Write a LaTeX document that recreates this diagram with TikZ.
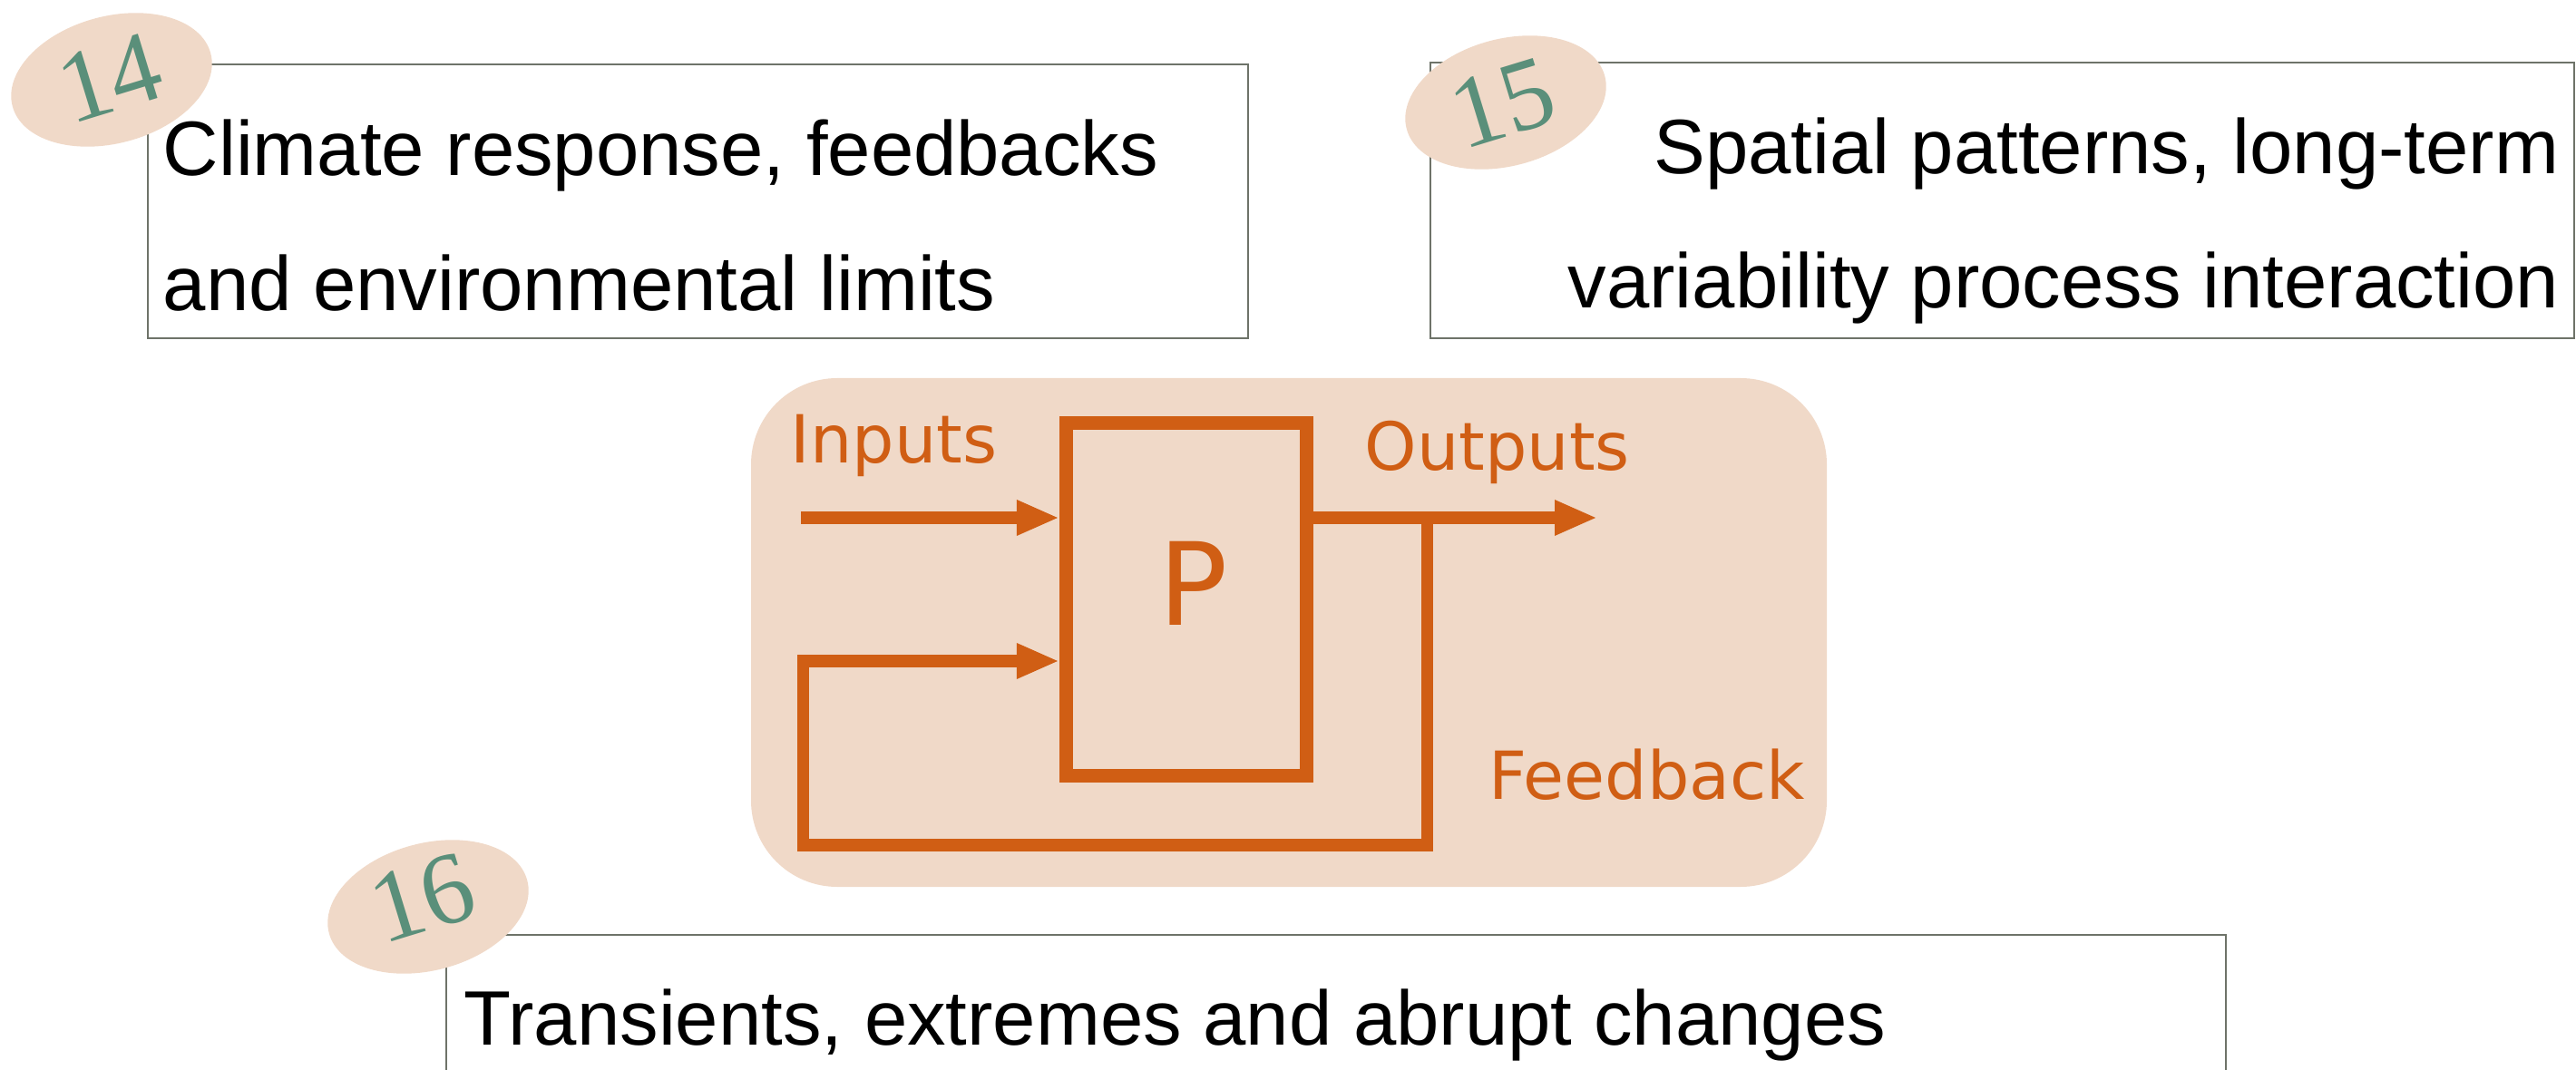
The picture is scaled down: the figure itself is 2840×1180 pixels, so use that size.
\documentclass[tikz,border=0pt]{standalone}
\usepackage{fontspec}
\setmainfont{Liberation Sans}
\newfontfamily\dejavu{DejaVu Sans}
\newfontfamily\numfont{Liberation Serif}
\usetikzlibrary{arrows.meta,shapes.geometric}
\definecolor{peach}{RGB}{240,217,200}
\definecolor{orng}{RGB}{208,94,20}
\definecolor{numgreen}{RGB}{90,143,122}
\definecolor{boxgray}{RGB}{110,115,105}
\begin{document}
\begin{tikzpicture}[x=0.01cm,y=-0.01cm,
  topicbox/.style={draw=boxgray, line width=0.8pt, fill=white},
  badgefill/.style={fill=peach},
  badgenum/.style={font=\numfont\fontsize{32}{32}\selectfont, text=numgreen, rotate=17, inner sep=0pt},
  boxtext/.style={font=\fontsize{24.2}{29}\selectfont, inner sep=0pt},
  lbl/.style={font=\dejavu\fontsize{20.8}{24}\selectfont, text=orng, inner sep=0pt},
  flow/.style={draw=orng, line width=3.7pt, line join=miter},
  arrowtip/.style={-{Triangle[length=0.47cm,width=0.36cm]}}
]
\useasboundingbox (0,0) rectangle (2840,1180);
\clip (0,0) rectangle (2840,1180);

% topic boxes
\draw[topicbox] (163,71) rectangle (1376,373);
\draw[topicbox] (1577,69) rectangle (2838,373);
\draw[topicbox] (492,1031) rectangle (2454,1260);

% badges
\fill[badgefill, rotate around={15:(123,88)}] (123,88) ellipse [x radius=1.13cm, y radius=0.70cm];
\fill[badgefill, rotate around={15:(1660,113)}] (1660,113) ellipse [x radius=1.13cm, y radius=0.70cm];
\fill[badgefill, rotate around={15:(472,1000)}] (472,1000) ellipse [x radius=1.13cm, y radius=0.70cm];
\node (n14) [badgenum] at (121,86) {14};
\node (n15) [badgenum] at (1657,114) {15};
\node (n16) [badgenum] at (466,990) {16};

% box texts
\node (t14a) [boxtext, anchor=base west] at (179,194) {Climate response, feedbacks};
\node (t14b) [boxtext, anchor=base west] at (179,343) {and environmental limits};
\node (t15a) [boxtext, anchor=base east] at (2822,192) {Spatial patterns, long-term};
\node (t15b) [boxtext, anchor=base east] at (2822,340) {variability process interaction};
\node (t16) [boxtext, anchor=base west] at (511,1152) {Transients, extremes and abrupt changes};

% central panel
\fill[peach, rounded corners=0.95cm] (828,417) rectangle (2014,978);

\node (P) [draw=orng, line width=4.27pt, minimum width=2.65cm, minimum height=3.89cm, inner sep=0pt] at (1308,661) {};
\node (Plabel) [font=\dejavu\fontsize{36}{40}\selectfont, text=orng, inner sep=0pt] at (1316,643) {P};

\node (inputs) [lbl, anchor=base west] at (871,511) {Inputs};
\node (outputs) [lbl, anchor=base west] at (1504,519) {Outputs};
\node (feedback) [lbl, anchor=base west] at (1641,881) {Feedback};

\coordinate (inS) at (883,571);
\coordinate (outE) at (1761,571);
\coordinate (junc) at (1573,571);
\coordinate (fbR) at (1573,932);
\coordinate (fbL) at (885,932);
\coordinate (fbU) at (885,729);

\draw[flow, arrowtip] (inS) -- (inS -| P.west);
\draw[flow, arrowtip] (P.east |- inS) -- (outE);
\draw[flow, arrowtip] (junc) -- (fbR) -- (fbL) -- (fbU) -- (fbU -| P.west);
\end{tikzpicture}
\end{document}
